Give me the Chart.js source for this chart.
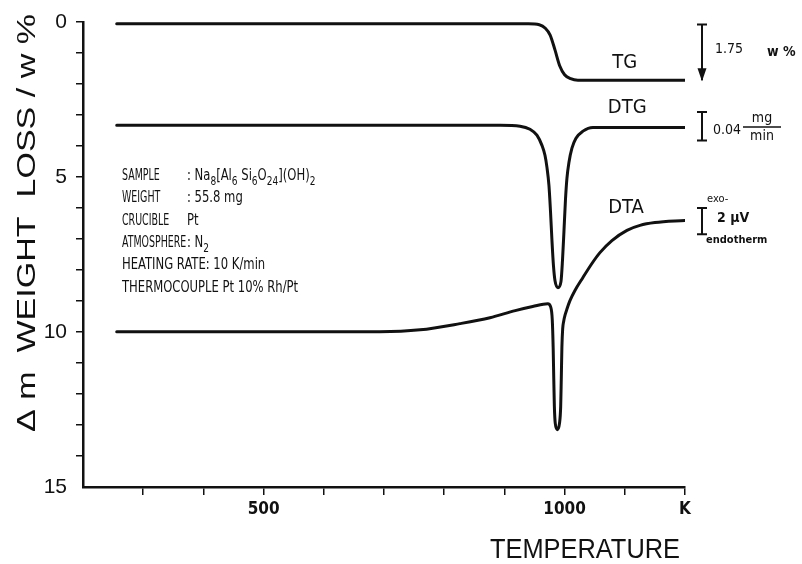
<!DOCTYPE html>
<html>
<head>
<meta charset="utf-8">
<script src="https://cdn.jsdelivr.net/npm/chart.js@4.4.0/dist/chart.umd.min.js"></script>
<style>
  html, body { margin: 0; padding: 0; background: #fff; }
  canvas { display: block; }
</style>
</head>
<body>
<canvas id="c" width="802" height="564"></canvas>
<script>
// Thermal analysis of hydroxy-sodalite: TG, DTG and DTA traces vs. temperature (K)
const tgTemp  = [256, 940, 958, 968, 976, 984, 992, 1000, 1010, 1022, 1200];
const tgLoss  = [0.06, 0.06, 0.09, 0.2, 0.42, 0.9, 1.42, 1.7, 1.83, 1.88, 1.88];

const dtgTemp = [256, 893, 926, 942.5, 954, 962.4, 967.4, 970.7, 974, 976.5, 979, 981.5, 984, 989,
                 994, 996.5, 999, 1001.4, 1003.9, 1007.2, 1012.2, 1018.9, 1030.5, 1047, 1200];
const dtgVal  = [3.33, 3.33, 3.36, 3.46, 3.65, 3.98, 4.30, 4.69, 5.27, 6.08, 7.05, 7.86, 8.34, 8.57,
                 8.37, 7.69, 6.72, 5.75, 5.04, 4.53, 4.07, 3.75, 3.52, 3.40, 3.40];

const dtaTemp = [256, 693, 760, 826, 876, 918, 947, 972, 977, 979.5, 981, 982, 983, 984.5, 988, 991.5, 993.5,
                 994.5, 995.5, 996.8, 998.5, 1000.8, 1003.9, 1008.9, 1017.2, 1030.5, 1045.4, 1058.7, 1078.6, 1103.6, 1125.2, 1150, 1200];
const dtaVal  = [9.99, 9.99, 9.93, 9.73, 9.54, 9.31, 9.18, 9.09, 9.2, 9.6, 10.5, 11.5, 12.4, 12.95, 13.15, 12.95, 12.4,
                 11.5, 10.5, 9.9, 9.65, 9.45, 9.26, 8.99, 8.66, 8.24, 7.79, 7.44, 7.05, 6.72, 6.56, 6.47, 6.40];

const xTickLabels = { 500: '500', 1000: '1000', 1200: 'K' };
const yTickLabels = { 0: '0', 5: '5', 10: '10', 15: '15' };

const curveNames = ['TG', 'DTG', 'DTA'];
const sampleRows = [
  ['SAMPLE', ': Na_8[Al_6 Si_6O_24](OH)_2'],
  ['WEIGHT', ': 55.8 mg'],
  ['CRUCIBLE', 'Pt'],
  ['ATMOSPHERE', ': N_2'],
  ['HEATING RATE: 10 K/min', ''],
  ['THERMOCOUPLE Pt 10% Rh/Pt', '']
];

const INK = '#111';
const NARROW = "'Liberation Sans Narrow', 'DejaVu Sans Condensed', 'Liberation Sans', sans-serif";
const SANS = "'Liberation Sans', 'DejaVu Sans', sans-serif";

function pts(xs, ys) { return xs.map((x, i) => ({ x, y: ys[i] })); }

function lineSet(label, data) {
  return {
    label, data,
    borderColor: INK, borderWidth: 3,
    pointRadius: 0, fill: false,
    cubicInterpolationMode: 'monotone',
    borderCapStyle: 'round', borderJoinStyle: 'round'
  };
}

// text squeezed horizontally to a given width
function fitText(ctx, text, cx, cy, font, width, rot) {
  ctx.save();
  ctx.font = font;
  const w = ctx.measureText(text).width;
  ctx.translate(cx, cy);
  if (rot) ctx.rotate(rot);
  ctx.scale(width / w, 1);
  ctx.textAlign = 'center';
  ctx.textBaseline = 'middle';
  ctx.fillText(text, 0, 0);
  ctx.restore();
}

// condensed text with "_digits" drawn as subscripts
function richText(ctx, str, x, y, size, family, squeeze) {
  const re = /_(\d+)/g;
  let last = 0, m;
  const parts = [];
  while ((m = re.exec(str)) !== null) {
    if (m.index > last) parts.push([str.slice(last, m.index), false]);
    parts.push([m[1], true]);
    last = re.lastIndex;
  }
  if (last < str.length) parts.push([str.slice(last), false]);
  ctx.save();
  ctx.translate(x, y);
  ctx.scale(squeeze, 1);
  ctx.textBaseline = 'alphabetic';
  ctx.textAlign = 'left';
  let cx = 0;
  for (const [t, sub] of parts) {
    const s = sub ? size * 0.78 : size;
    ctx.font = s + 'px ' + family;
    ctx.fillText(t, cx, sub ? size * 0.32 : 0);
    cx += ctx.measureText(t).width;
  }
  ctx.restore();
}

function ibar(ctx, x, y0, y1, half, arrow) {
  ctx.beginPath();
  ctx.moveTo(x, y0); ctx.lineTo(x, y1);
  ctx.moveTo(x - half, y0); ctx.lineTo(x + half, y0);
  if (!arrow) { ctx.moveTo(x - half, y1); ctx.lineTo(x + half, y1); }
  ctx.stroke();
  if (arrow) {
    ctx.beginPath();
    ctx.moveTo(x, y1 + 1);
    ctx.lineTo(x - 4.5, y1 - 12);
    ctx.lineTo(x + 4.5, y1 - 12);
    ctx.closePath();
    ctx.fill();
  }
}

const annotations = {
  id: 'annotations',
  afterDraw(chart) {
    const { ctx, scales: { x, y } } = chart;
    ctx.save();
    ctx.fillStyle = INK;
    ctx.strokeStyle = INK;

    // axis titles
    fitText(ctx, 'Δ m  WEIGHT  LOSS / w %', 28, 223, '26px ' + SANS, 418, -Math.PI / 2);
    fitText(ctx, 'TEMPERATURE', 585, 550, '28px ' + SANS, 190, 0);

    // curve names
    ctx.font = '20px ' + NARROW;
    ctx.textAlign = 'center';
    ctx.textBaseline = 'middle';
    ctx.fillText(curveNames[0], x.getPixelForValue(1100), y.getPixelForValue(1.3));
    ctx.fillText(curveNames[1], x.getPixelForValue(1104), y.getPixelForValue(2.78));
    ctx.fillText(curveNames[2], x.getPixelForValue(1102), y.getPixelForValue(6.0));

    // experiment details
    const bx = 122, sx = 187;
    sampleRows.forEach(([a, b], i) => {
      const by = 180 + i * 22.3;
      richText(ctx, a, bx, by, 15, NARROW, b ? 0.7 : 0.86);
      if (b) richText(ctx, b, sx, by, 15, NARROW, 0.86);
    });

    // scale bars on the right
    ctx.lineWidth = 2;
    const rx = 702;
    ibar(ctx, rx, y.getPixelForValue(0.08), y.getPixelForValue(1.88), 5, true);
    ibar(ctx, rx, y.getPixelForValue(2.9), y.getPixelForValue(3.82), 5, false);
    ibar(ctx, rx, y.getPixelForValue(6.0), y.getPixelForValue(6.85), 5, false);

    ctx.textAlign = 'left';
    ctx.textBaseline = 'middle';
    ctx.font = '14px ' + NARROW;
    ctx.fillText('1.75', 715, 49);
    ctx.font = 'bold 14px ' + NARROW;
    ctx.fillText('w %', 767, 52);
    ctx.font = '14px ' + NARROW;
    ctx.fillText('0.04', 713, 130);
    ctx.textAlign = 'center';
    ctx.fillText('mg', 762, 118);
    ctx.fillText('min', 762, 136);
    ctx.lineWidth = 1.5;
    ctx.beginPath(); ctx.moveTo(743, 127); ctx.lineTo(781, 127); ctx.stroke();
    ctx.textAlign = 'left';
    ctx.font = '11px ' + NARROW;
    ctx.fillText('exo-', 707, 199);
    ctx.font = 'bold 14px ' + NARROW;
    ctx.fillText('2 μV', 717, 218);
    ctx.font = 'bold 11px ' + NARROW;
    ctx.fillText('endotherm', 706, 240);
    ctx.restore();
  }
};

new Chart(document.getElementById('c'), {
  type: 'line',
  data: {
    datasets: [
      lineSet(curveNames[0], pts(tgTemp, tgLoss)),
      lineSet(curveNames[1], pts(dtgTemp, dtgVal)),
      lineSet(curveNames[2], pts(dtaTemp, dtaVal))
    ]
  },
  options: {
    responsive: false,
    animation: false,
    devicePixelRatio: 1,
    layout: { padding: { left: 0, top: 22, right: 117, bottom: 0 } },
    plugins: { legend: { display: false }, tooltip: { enabled: false } },
    scales: {
      x: {
        type: 'linear', min: 200, max: 1200,
        afterFit(s) { s.height = 77; },
        border: { display: true, color: INK, width: 2.5 },
        grid: {
          display: true, drawOnChartArea: false, drawTicks: true, tickLength: 8, lineWidth: 1.5,
          color: c => (c.tick && c.tick.value === 200) ? 'rgba(0,0,0,0)' : INK
        },
        ticks: {
          stepSize: 100, autoSkip: false, maxRotation: 0, padding: 4,
          color: INK, font: { family: NARROW, size: 17, weight: 'bold' },
          callback: v => xTickLabels[v] || ''
        }
      },
      y: {
        type: 'linear', min: 0, max: 15, reverse: true,
        afterFit(s) { s.width = 83; },
        border: { display: true, color: INK, width: 2.5 },
        grid: {
          display: true, drawOnChartArea: false, drawTicks: true, tickLength: 7, lineWidth: 1.5,
          color: c => (c.tick && c.tick.value === 15) ? 'rgba(0,0,0,0)' : INK
        },
        ticks: {
          stepSize: 1, autoSkip: false, padding: 9,
          color: INK, font: { family: SANS, size: 21 },
          callback: v => yTickLabels[v] || ''
        }
      }
    }
  },
  plugins: [annotations]
});
</script>
</body>
</html>
